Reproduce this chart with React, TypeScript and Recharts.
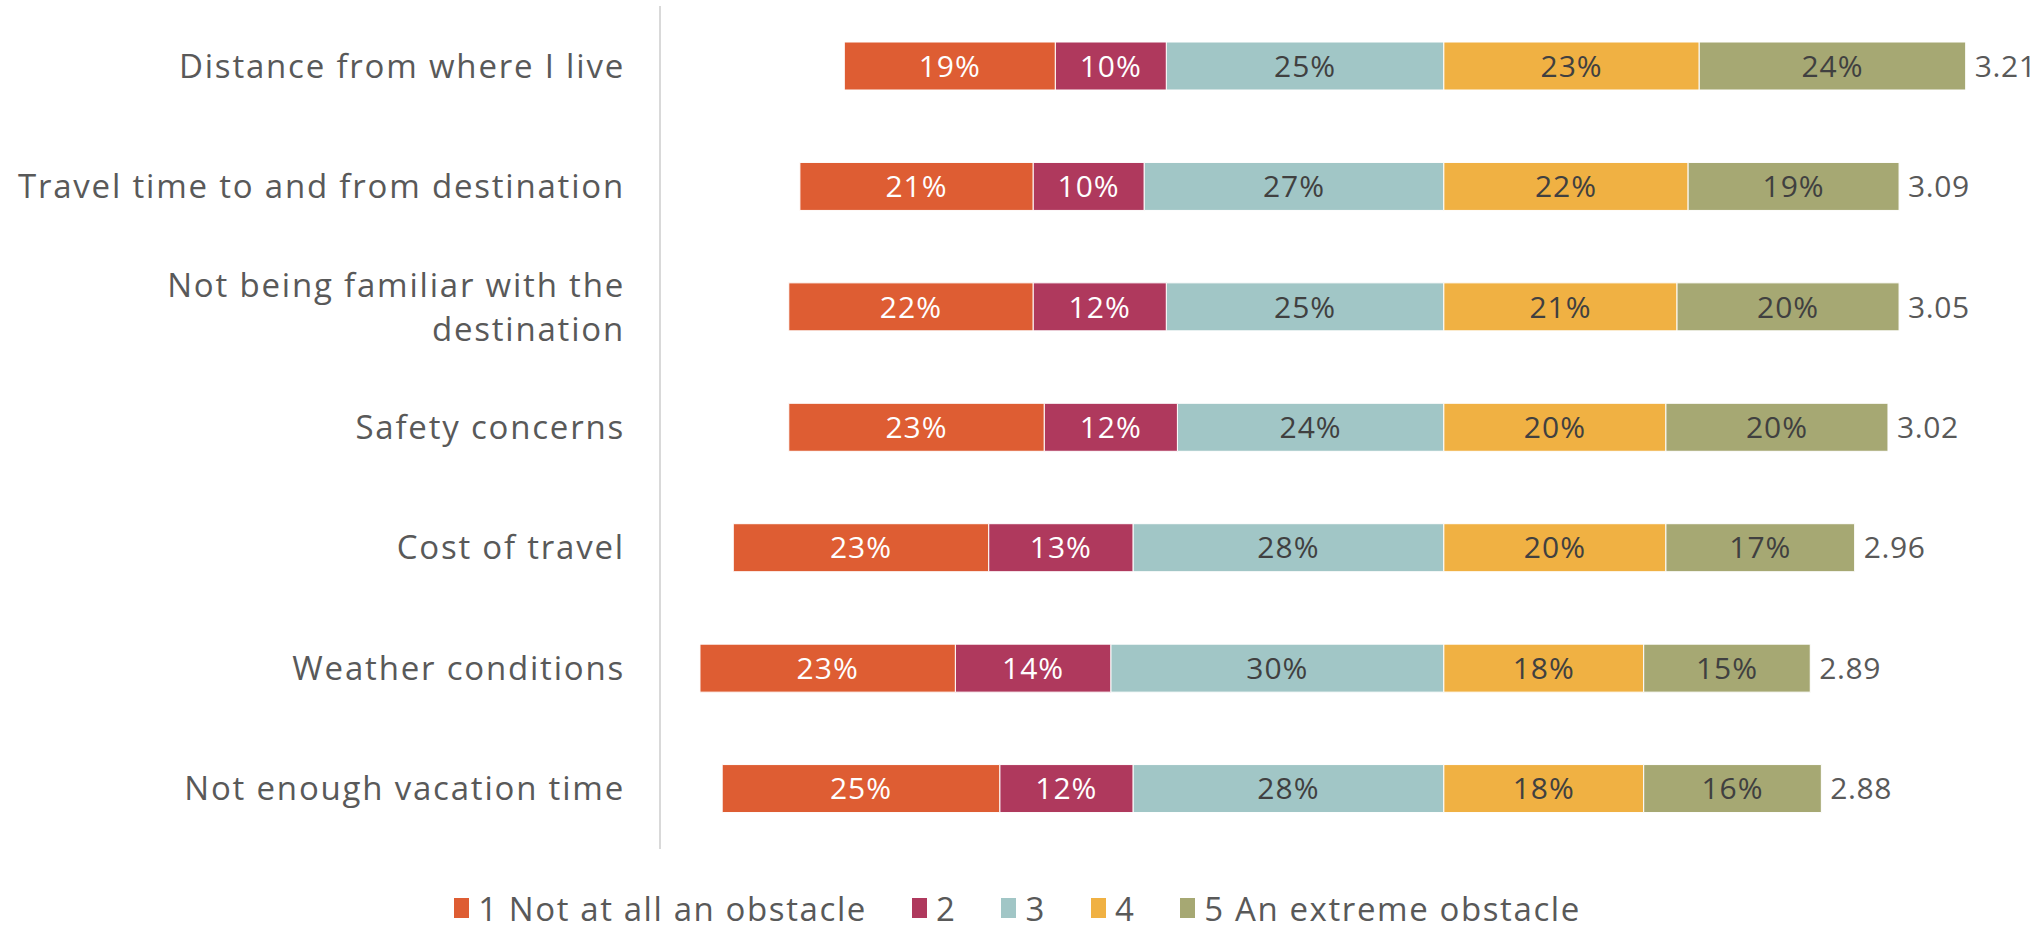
import { Bar, BarChart, LabelList, Legend, XAxis, YAxis } from "recharts";

const categories = [
  "Distance from where I live",
  "Travel time to and from destination",
  "Not being familiar with the destination",
  "Safety concerns",
  "Cost of travel",
  "Weather conditions",
  "Not enough vacation time",
];
const notAtAll = [19, 21, 22, 23, 23, 23, 25];
const two = [10, 10, 12, 12, 13, 14, 12];
const three = [25, 27, 25, 24, 28, 30, 28];
const four = [23, 22, 21, 20, 20, 18, 18];
const extreme = [24, 19, 20, 20, 17, 15, 16];
const means = ["3.21", "3.09", "3.05", "3.02", "2.96", "2.89", "2.88"];

const seriesNames = ["1 Not at all an obstacle", "2", "3", "4", "5 An extreme obstacle"];
const colors = ["#DE5D33", "#AF395D", "#A1C6C6", "#F0B143", "#A6A873"];

const FONT = "'Open Sans', 'Noto Sans', sans-serif";

// 1-3 go left of zero, 4-5 right
const data = categories.map((name, i) => ({
  name,
  s1: -notAtAll[i],
  s2: -two[i],
  s3: -three[i],
  s4: four[i],
  s5: extreme[i],
  mean: means[i],
}));

const pct = (v: any) => `${Math.abs(Number(v))}%`;

function CategoryTick({ x, y, payload }: any) {
  const words = String(payload.value).split(" ");
  const lines: string[] = [];
  if (payload.value.length > 36) {
    let cur = "";
    for (const w of words) {
      const next = cur ? cur + " " + w : w;
      if (next.length > 30) {
        lines.push(cur);
        cur = w;
      } else cur = next;
    }
    lines.push(cur);
  } else lines.push(payload.value);
  const lh = 44;
  const start = -((lines.length - 1) * lh) / 2;
  return (
    <text x={x} y={y} textAnchor="end" fill="#595959" fontSize={33} fontFamily={FONT} letterSpacing={1.8}>
      {lines.map((l, k) => (
        <tspan key={k} x={x} y={y + start + k * lh} dy="0.35em">
          {l}
        </tspan>
      ))}
    </text>
  );
}

function LegendBox() {
  return (
    <div
      style={{
        display: "flex",
        justifyContent: "center",
        alignItems: "center",
        height: 40,
        paddingLeft: 36,
        fontFamily: FONT,
        fontSize: 33,
        letterSpacing: 1.6,
        color: "#595959",
      }}
    >
      {seriesNames.map((n, i) => (
        <div key={n} style={{ display: "flex", alignItems: "center", marginRight: i < 4 ? 45 : 0 }}>
          <span style={{ display: "inline-block", width: 15, height: 20, background: colors[i], marginRight: 9 }} />
          <span>{n}</span>
        </div>
      ))}
    </div>
  );
}

const pctStyle = { fontSize: 30, fontFamily: FONT, letterSpacing: 1 };

export default function App() {
  return (
    <div style={{ position: "absolute", left: 0, top: 0, background: "#fff" }}>
      <BarChart
        width={2041}
        height={928}
        data={data}
        layout="vertical"
        stackOffset="sign"
        barSize={48}
        margin={{ top: 6, right: 42, left: 0, bottom: 39 }}
      >
        <XAxis type="number" domain={[-70.6, 50]} hide />
        <YAxis
          type="category"
          dataKey="name"
          width={660}
          axisLine={{ stroke: "#D9D9D9", strokeWidth: 2 }}
          tickLine={false}
          tickMargin={29}
          tick={<CategoryTick />}
          interval={0}
        />
        <Legend
          verticalAlign="bottom"
          height={40}
          wrapperStyle={{ bottom: 0 }}
          content={() => <LegendBox />}
        />
        <Bar dataKey="s3" stackId="a" fill={colors[2]} stroke="#fff" strokeWidth={1} isAnimationActive={false}>
          <LabelList dataKey="s3" position="center" formatter={pct} fill="#404040" {...pctStyle} />
        </Bar>
        <Bar dataKey="s2" stackId="a" fill={colors[1]} stroke="#fff" strokeWidth={1} isAnimationActive={false}>
          <LabelList dataKey="s2" position="center" formatter={pct} fill="#ffffff" {...pctStyle} />
        </Bar>
        <Bar dataKey="s1" stackId="a" fill={colors[0]} stroke="#fff" strokeWidth={1} isAnimationActive={false}>
          <LabelList dataKey="s1" position="center" formatter={pct} fill="#ffffff" {...pctStyle} />
        </Bar>
        <Bar dataKey="s4" stackId="a" fill={colors[3]} stroke="#fff" strokeWidth={1} isAnimationActive={false}>
          <LabelList dataKey="s4" position="center" formatter={pct} fill="#404040" {...pctStyle} />
        </Bar>
        <Bar dataKey="s5" stackId="a" fill={colors[4]} stroke="#fff" strokeWidth={1} isAnimationActive={false}>
          <LabelList dataKey="s5" position="center" formatter={pct} fill="#404040" {...pctStyle} />
          <LabelList
            dataKey="mean"
            position="right"
            offset={9}
            fill="#595959"
            fontSize={30}
            fontFamily={FONT}
            letterSpacing={0.6}
          />
        </Bar>
      </BarChart>
    </div>
  );
}
